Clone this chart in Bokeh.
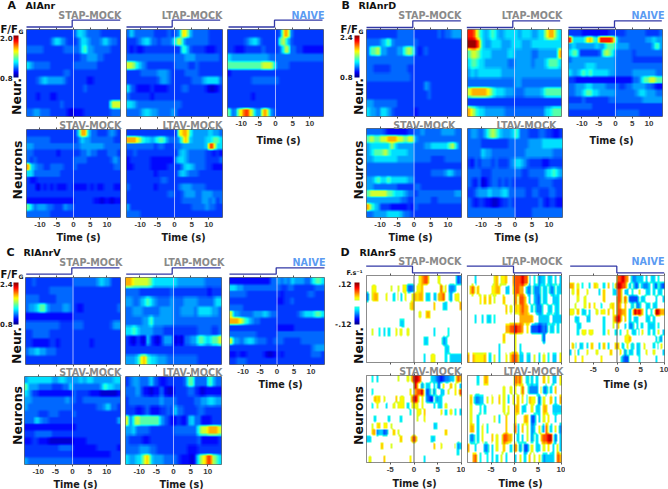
import numpy as np
from bokeh.embed import file_html
from bokeh.resources import INLINE
from bokeh.plotting import figure
from bokeh.layouts import column
from bokeh.models import LinearColorMapper, LinearAxis, FixedTicker, Span, Range1d, ColorBar
from bokeh.core.properties import value

# ---------- data: one string per neuron, one character per time bin ----------
TICKS = [-10, -5, 0, 5, 10]
TICKS_D = [-5, 0, 5, 10]

A_STAP = ["2222222 2222222 3554333 3222222","2222222 3554322 2355433 3454332","3333322 2222333 3356443 3333222",
"2222222 2222222 2233444 3322222","5433333 2222222 3333333 2222222","2222222 2222332 2222222 2222222",
"2223454 4444322 2222112 2222222","2222222 2222222 2223222 2222222","2221222 1122222 2222222 2222222",
"2222222 2223222 2222222 2222777","3344333 2222210 1112222 2222333"]
A_LTAP = ["3533333 3222232 3487533 3332222","2223455 3323334 6753333 3332222","2121122 2222222 2265322 2211122",
"3333333 3333333 3334443 3333332","7765432 2222222 3333223 2222222","2222333 3344432 2223333 2222222",
"2222222 2234432 2222233 3455553","5321111 2111122 2233222 2210012","3222222 1222222 2222222 2222222",
"5543333 3333333 3322222 2222222","3333455 4433334 3222222 2222222"]
A_NAIVE = ["2222222 2222222 2388422 2222222","2222234 5532222 2675322 2222222","2211122 2223222 2367332 2111111",
"5444444 4444433 3333333 3333333","6666666 6667776 3333222 2222222","1222222 2222222 2222222 2222222",
"2222222 3333333 3222222 2222222","2222222 2222222 2222222 2222222","2222222 1222222 2222222 2222222",
"2222222 2222222 2222222 2222222","6347898 6448843 2222222 2222222"]
A_STAV = ["2222222 2222222 2588533 2223432","3333333 2222222 2354433 3333322","4433333 3333333 3344444 4433333",
"3322222 2212222 2233433 2223332","3232222 2222222 3333222 2222343","8543322 3333222 3222222 2222233",
"5533333 3332222 2222222 2222222","2112222 2222222 2222222 2222222","2220212 1211122 1111212 1122211",
"2222222 2222222 2222222 2222222","1111111 1111111 2222221 1011011","6534443 3222433 2222222 2222222",
"3333333 2222222 2222222 2222222"]
A_LTAV = ["2222222 2222222 2788644 4445443","8887655 4566533 3478544 4455665","3333333 3233222 3344444 4459855",
"2232222 2222222 2454333 3322121","1222222 1111111 4554333 3322223","1122222 1111122 2245543 3322111",
"2222222 2122222 2454333 2222222","2222222 2223322 2222222 2222222","3222222 2122222 2344433 3322222",
"2222222 2222233 2234443 3444333","2222222 2222222 2233333 3443423","4222222 2222222 2222233 3343322",
"3333222 2222222 2222222 2222222"]

B_STAP = ["2222222 2233333 2222222 3233444","3333456 4333333 3222222 2222222","3667443 3344676 3123222 2222222",
"3333333 3333333 2222222 2222222","3322222 3333322 2222222 2222222","3333333 3333332 2222222 2222222",
"2222222 2222222 2224322 2222222","2222222 2222222 2222322 2222222","4433333 3322222 2222222 2222222",
"5443554 3222222 1222222 2222222"]
B_LTAP = ["9986545 6544555 5455544 5578865","aaa8544 5554445 5544455 5555555","6776555 4444455 4444433 4444448",
"5665544 4444433 4444434 4456665","4545555 5554444 4444444 4444444","3333333 3333333 4433333 3333333",
"7888887 6555444 3334444 4566666","2222222 2222222 2222222 2222222","8765544 4444333 3333333 3355666"]
B_NAIVE = ["2222111 1111122 2223333 3322223","9555578 6599998 4333333 3344544","4544444 4544666 4444333 3333564",
"5662222 2236765 3333323 3333333","3444444 4444444 3333322 2222222","4444455 5444444 3333333 3333333",
"5445656 5555544 3333344 4444433","2211111 1111111 1111133 4667766","3344455 4444333 3223344 4433211",
"3344566 5544444 3333334 5544433","2222322 2222233 3333333 3444444","3333333 2222222 2222222 2222222",
"2222222 2222222 3333333 2222222"]
B_STAV = ["3333321 1111122 3343333 3444433","6766778 8877677 4333333 3333333","4555555 7544444 3334455 5556753",
"4566676 5555544 3333333 3333333","4455555 5544444 3333322 2233333","3333333 3333333 2222222 2222222",
"3333333 3333333 2222233 3345433","4456556 5555544 2222222 2222222","4433333 3322222 3322222 2222222",
"6777776 6555433 2333333 3333344","4444444 4443322 3333322 3333333","8654222 1111121 3222222 2222222",
"3344445 5554332 2222222 2222222"]
B_LTAV = ["3443356 7654445 6333222 3322112","3333222 2222233 3333444 4555555","3333544 3333333 3334444 4444333",
"2132333 2322234 5543222 2112222","3333222 3333333 3322333 3355654","3213012 3323232 2222222 3333222",
"2234445 4445533 3332233 2223322","3212211 0012232 2222222 3212211","3333333 3333333 2222233 3333333"]

C_STAP = ["2232222 2222222 3333333 4544222","2222222 3333333 2222222 2222222","3333222 2233333 2222222 2222222",
"3445664 3333443 2112222 2222223","1111111 1111111 2222222 2222222","3333333 3332222 3332222 2222344",
"2233333 2222222 2222222 2222222","2211111 2212222 2222212 2222222","3445443 3322222 2222222 2222222",
"2222222 2222222 2222222 2222222"]
C_LTAP = ["8877777 6555555 5444444 4433333","3333222 2222223 2222222 2221222","4433456 5433334 3334444 3333355",
"3344433 3334444 3344443 5555443","3333344 6444444 3333333 3333333","5565444 4333222 2222222 3333223",
"2102105 2102444 0103344 6655667","2222222 2222222 2222222 2222222","4445786 5544433 3333333 2222222"]
C_NAIVE = ["1111111 1111133 4343544 4335665","5544333 3333333 3223322 2222333","3333322 2222222 2122222 2233222",
"2222222 2222222 1122322 2222222","3333222 2222222 2222222 2222222","7443333 4445433 2222223 4555665",
"8887654 3322222 2222222 2222222","2222222 2222222 1111122 2222222","3333333 3222222 3333333 3333333",
"7443455 4333223 3322222 3333333","2222222 2222222 2222222 2223444","1121122 2221001 2122222 2223332",
"2233322 2222222 2222222 2222222"]
C_STAV = ["4555555 5445544 4454554 4444455","6444333 3222335 3333333 3465544","5422111 1111111 3222211 1000001",
"4433333 3333343 3223333 3333333","4333333 3333333 2222222 3345332","3333222 3332222 3222222 2222222",
"3335433 2222222 2222222 2222224","1111111 1111111 1222222 2222222","2223333 3222222 2222222 2222222",
"1122111 0000000 1111222 2222222","2222222 2223333 1111111 2222221","2222222 2222222 1111111 1111222",
"4333333 3333333 2222222 2222222"]
C_LTAV = ["2344333 5321122 2223663 3336533","3334311 0113100 2222332 1011111","2333333 3334333 3222223 3445544",
"2221123 1112232 5332222 3322222","7367666 6664321 1211453 3111222","4453333 2222222 3333333 6778887",
"3222211 2222222 2222222 3111112","3333444 3322222 2222111 2222222","5445578 5444333 3211102 6789765"]

D_STAP = [".......... .......... ..6788.... 6.......23","..66...... 6..6.66323. 667....... 8.64334...",
"3.677...6. .4.64.6..6 7677.44.44 778..3.66.",".......... ........67 ........7. ..44.....7",
".......... .......... ..6..77... ..........",".......... ....44.... .......... ..........",
"..6..4.4.4 ..6.6..6.. ........4. ....4.....",".......... .......... ....44.... ..34......",
".......... .......... .......... ...44.....",".......... .......... ....4..66. ...4.44444"]
D_LTAP = ["...4...... .67.667..7 8889884.4. 344.44.4.4",".78.7..... 6677..44.6 8877.33.33 3.44.33.44",
".....7.7.7 .6...7.... 8.887.4.43 2.44..444.",".......... ......7.6. 767877.4.3 33..44.44.",
"...4..4.44 .4........ ..777777.. 44444.4444",".......... ......7788 9887.7.222 1232.44.4.",
".......... .....7.... 6......... ..2.......",".......... ...4...... 6.4....... ..........",
"7.766667.4 .6.4..6.78 8744.44.6. 4.6.4.44.6"]
D_NAIVE = [".......... .......... 88987.3344 4.4.44.4..","77.6.4..4. 76..4.7.47 9988.4.32. 4334.42.32",
".6.7...6.. ..4.7...44 88.44.4..6 ..44.4.44.","...6..6... ....7..... 88.8.2222. 44....4..4",
"..6...6.7. 7..4...67. 87.7..3.33 ..44.44...","66.7.44.4. .6.66.7.7. 8877.4.989 7.4.4.9977",
"..44...44. ....4...68 98.7.4.44. ..44.4....","...44..... ....4...6. 7..4.33.4. 4..444.4..",
"...4.66.66 ....4.6..4 .4..6.44.4 6..4.4.6.4",".......... .......... ...667.... ......4.3.",
".74.44.4.7 ..4.7.4..7 7.4.6.3.44 .6...4.46.","4.64...6.. .6.....7.. .7.3.44.44 ..6..6...4",
"..7..7.... ...7...... ..322....4 ......4..."]
D_STAV = ["..4.4..... ...6...6.8 998....443 2123344.87",".......... .......... 97.3.44.4. 2.6..7.6.4",
"..4....... ........7. 7889.23.3. .44.6..7.8","...767.6.. ..7.66...8 98.6.321.3 44........",
"..4.6...4. .6.666.4.6 66.6....4. 44.6......",".......... ........4. .66.7..... .6.4.6.4.4",
"...4.....4 ....4..... .6..6..... ..........","..6.67.66. 6......... ........44 ..........",
"..7734423. .7.6...... .......... ...7......","44........ ....7....8 8......44. ..........",
"......7... 6......... ........7. .6.....634",".......... .......... .......... ........4.",
".6.....7.. ........7. ....4..... ..........."]
D_LTAV = ["....4..77. .......... 878..3.4.4 ..7.6.44.6",".......... .....6..6. 6..8..3333 .633.4.7..",
".7.3344.6. 6..7.6.4.6 .7.6.4766. 2.6..7.4.7",".6...4.4.. .....6.6.. 77.44..6.4 4.77..4444",
".6..4..... .6.4..7... 6...77.22. 4.6.7..4..",".77.4.6.4. ......7... 84.7.6.34. 6.38.4.6.3",
".33.4.6... 7.6..8877. .4.4.6.3.4 .78899.2.4","7..4...33. 4.6..7..4. 8.3.22.6.4 4.6.7.4.64",
"..78.4..4. 4.4.6.4... 4.6.4.7.6. 6.34444.87"]

RANGE_AC = {"A": (0.8, 2.0), "B": (0.8, 2.4), "C": (0.8, 2.4)}
RANGE_D = (-0.12, 0.12)

TITLES = ["STAP-MOCK", "LTAP-MOCK", "NAIVE", "STAV-MOCK", "LTAV-MOCK"]
PANELS = ["A", "B", "C", "D"]
NAMES = ["AIAnr", "RIAnrD", "RIAnrV", "RIAnrS"]

# ---------- colour: code -> normalised position on the colour scale ----------
LEVEL = dict(zip("0123456789a", [0.08, 0.135, 0.18, 0.23, 0.285, 0.345, 0.46, 0.58, 0.70, 0.85, 0.97]))
LEVEL_D = {"0": .05, "1": .14, "2": .2, "3": .26, "4": .33, ".": .5, "6": .63, "7": .70, "8": .80, "9": .93}

def jet(t):
    r = np.clip(np.minimum(4*t-1.5, -4*t+4.5), 0, 1)
    g = np.clip(np.minimum(4*t-0.5, -4*t+3.5), 0, 1)
    b = np.clip(np.minimum(4*t+0.5, -4*t+2.5), 0, 1)
    return "#%02x%02x%02x" % (int(r*255), int(g*255), int(b*255))

JET = [jet(i/255) for i in range(256)]
JET_D = ["#ffffff" if 0.43 < i/255 < 0.57 else jet(i/255) for i in range(256)]

def decode(rows, ncol, levels, low, high):
    out = []
    for s in rows:
        s = s.replace(" ", "")
        s = s.ljust(ncol, s[-1])[:ncol]
        out.append([low + levels[c]*(high-low) for c in s])
    return np.array(out, dtype=float)

def box(a, w, axis):
    # small moving average, the photographed reference is soft
    pad = [(0, 0), (0, 0)]
    pad[axis] = (w//2, w//2)
    a = np.pad(a, pad, mode="edge")
    return np.apply_along_axis(lambda v: np.convolve(v, np.ones(w)/w, mode="valid"), axis, a)

def soften(a, is_d):
    fy, fx = 8, (3 if is_d else 4)
    a = np.repeat(np.repeat(a, fy, axis=0), fx, axis=1)
    a = box(a, 3, 0)
    return box(a, 3 if is_d else 5, 1)

# ---------- layout in reference pixels: left, top, right, bottom ----------
BOX = {
 "A": [(26,29,120,116),(126,29,222,116),(227,29,323,116),(26,129,120,217),(126,129,222,217)],
 "B": [(366,29,461,116),(467,29,561,116),(568,29,662,116),(366,128,461,217),(467,128,562,217)],
 "C": [(25,277,120,364),(125,277,221,364),(229,277,324,364),(24,376,120,464),(125,376,221,464)],
 "D": [(366,275,461,362),(467,275,561,362),(569,275,664,362),(366,375,461,462),(467,375,561,462)],
}
SERIES = {
 "A": [A_STAP,A_LTAP,A_NAIVE,A_STAV,A_LTAV],
 "B": [B_STAP,B_LTAP,B_NAIVE,B_STAV,B_LTAV],
 "C": [C_STAP,C_LTAP,C_NAIVE,C_STAV,C_LTAV],
 "D": [D_STAP,D_LTAP,D_NAIVE,D_STAV,D_LTAV],
}
PAD, TOP, BOTTOM = 4, 5, 18
FONT = value("DejaVu Sans")

def heatmap(panel, idx):
    x0, y0, x1, y1 = BOX[panel][idx]
    rows = SERIES[panel][idx]
    is_d = panel == "D"
    lo, hi = RANGE_D if is_d else RANGE_AC[panel]
    data = decode(rows, 40 if is_d else 28, LEVEL_D if is_d else LEVEL, lo, hi)
    t0, t1 = (-10, 10) if is_d else (-14, 14)
    p = figure(width=x1-x0+2*PAD, height=y1-y0+TOP+BOTTOM, x_range=Range1d(t0, t1), y_range=Range1d(0, len(rows)),
               output_backend="svg", toolbar_location=None, x_axis_location=None, y_axis_location=None,
               min_border_left=PAD, min_border_right=PAD, min_border_top=TOP, min_border_bottom=BOTTOM,
               background_fill_color="white", border_fill_color=None, outline_line_color="#666666", outline_line_width=1)
    p.grid.visible = False
    mapper = LinearColorMapper(palette=JET_D if is_d else JET, low=lo, high=hi)
    p.image(image=[soften(data[::-1], is_d)], x=t0, y=0, dw=t1-t0, dh=len(rows), color_mapper=mapper)
    p.add_layout(Span(location=0, dimension="height",
                      line_color="#555555" if is_d else "#d8d8ff", line_alpha=0.9 if is_d else 0.75, line_width=1))
    show_labels = idx >= 2
    ticks = TICKS_D if is_d else TICKS
    for side in ("below", "above"):
        labelled = side == "below" and show_labels
        ax = LinearAxis(ticker=FixedTicker(ticks=ticks), axis_line_color=None, major_tick_in=0, major_tick_out=2,
                        major_tick_line_color="#555555", minor_tick_line_color=None, major_label_standoff=2 if labelled else 0,
                        major_label_text_font="Liberation Sans", major_label_text_font_style="bold",
                        major_label_text_font_size="8px" if labelled else "1px",
                        major_label_text_color="#3a3a3a",
                        major_label_overrides={t: str(t) for t in ticks} if labelled else {t: "" for t in ticks})
        p.add_layout(ax, side)
    p.styles = {"position": "absolute", "left": f"{x0-PAD}px", "top": f"{y0-TOP}px"}
    return p

figs = [heatmap(k, i) for k in PANELS for i in range(5)]

# ---------- two overlays in pixel coordinates, one per half, for the texts and stimulus steps ----------
# each overlay's frame is 660 wide and starts a little inside the element
FRAME_W, INSET = 660, 5.5
def overlay(frame_left):
    f = figure(width=FRAME_W+16, height=489, x_range=Range1d(frame_left, frame_left+FRAME_W), y_range=Range1d(489, 0),
               output_backend="svg", toolbar_location=None, x_axis_location=None, y_axis_location=None,
               min_border=0, min_border_left=0, min_border_right=0, min_border_top=0, min_border_bottom=0,
               background_fill_color=None, border_fill_color=None, outline_line_color=None)
    f.grid.visible = False
    f.styles = {"position": "absolute", "left": f"{frame_left-INSET}px", "top": "0px", "pointer-events": "none"}
    return f

ovL, ovR = overlay(0), overlay(8)
SPLIT = 334

def txt(xs, ys, labels, size, color="#111111", align="left", angle=0.0, style="bold", font=FONT):
    for ov, keep in ((ovL, lambda v: v < SPLIT), (ovR, lambda v: v >= SPLIT)):
        idx = [i for i, v in enumerate(xs) if keep(v)]
        if idx:
            ov.text(x=[xs[i] for i in idx], y=[ys[i] for i in idx], text=[labels[i] for i in idx],
                    text_font=font, text_font_size=size, text_font_style=style,
                    text_color=color, text_align=align, text_baseline="middle", angle=angle)

# panel letters and names
txt([8,342,7,341],[5,5,252,252],PANELS,"11px")
txt([26,359,24,360],[4.5,4.5,251.5,251.5],NAMES,"9.5px")

# condition titles: right edge, centre
TITLE_POS = {
 "A": [(122,15),(223,15),(325,15),(122,125),(223,125)],
 "B": [(462,15),(563,15),(665,15),(456,125),(557,125)],
 "C": [(123,262),(225,262),(326,262),(122,372),(223,372)],
 "D": [(462,261),(563,261),(665,261),(462,371),(564,371)],
}
for k in PANELS:
    for i, (x, y) in enumerate(TITLE_POS[k]):
        txt([x],[y],[TITLES[i]],"9.6px","#5b9bf2" if i == 2 else "#8a8a8a","right")

# stimulus steps: start, switch, stop
STEP = {
 "A": (19.7,26.5,[(27,72.7,120.7),(127,172.7,220.7),(229,275,323)]),
 "B": (20.3,27,[(367,413.3,461.3),(467.3,513.3,560.7),(569,615,662.3)]),
 "C": (267.3,273.7,[(26.7,72.3,120),(126.7,172.7,221.3),(230,276.7,325)]),
 "D": (265.7,272.3,[(366.7,413,460.7),(467.3,514,562),(570.7,617.3,664.7)]),
}
for k, (hi_y, lo_y, spans) in STEP.items():
    ov = ovL if k in "AC" else ovR
    for a, b, c in spans:
        before, after = (hi_y, lo_y) if k == "D" else (lo_y, hi_y)
        ov.line([a, b, b, c], [before, before, after, after], line_color="#3238a6", line_width=1.3)

# colour bars and their labels
CB = {"A": (14,35,5,42), "B": (355,35,5,42), "C": (14,282,5,42), "D": (355,282,5,42)}
for k, (x, y, w, h) in CB.items():
    ov, left = (ovL, 0) if k in "AC" else (ovR, 8)
    m = LinearColorMapper(palette=JET_D if k == "D" else JET, low=0, high=1)
    cb = ColorBar(color_mapper=m, location=(x-left, 489-y-h), width=w, height=h, padding=0, margin=0,
                  major_tick_line_color=None, bar_line_color=None,
                  border_line_color=None, background_fill_color=None, ticker=FixedTicker(ticks=[]))
    ov.add_layout(cb, "center")
txt([13,353,13],[37,36,283],["2.0","2.4","2.4"],"7px","#222222","right")
txt([13,353,13],[77,76,323],["0.8","0.8","0.8"],"7px","#222222","right")
txt([352,352],[283,323],[".12","-.12"],"7.5px","#222222","right")

# F/F_G labels
txt([1,341,1],[29,29,274],["F/F","F/F","F/F"],"10px")
txt([19,359,19],[31,31,276],["G","G","G"],"6px")
txt([347],[272],["F.s\u207b\u00b9"],"6.5px")

# rotated labels
ROT = np.pi/2
txt([17,359,17,359],[96,96,345,345],["Neur."]*4,"12.5px","#111111","center",ROT)
txt([17.5,359,17.5,359],[169.5,169.5,415,415],["Neurons"]*4,"12.5px","#111111","center",ROT)

# time labels
txt([79,184,279,411,517,612,76,182,281,415,521,626],
    [237,237,140,237,237,140,484,484,384,483,483,384],["Time (s)"]*12,"9.6px","#1a1a1a","center")

root = column(*figs, ovL, ovR, width=668, height=489, sizing_mode="fixed")
root.styles = {"position": "absolute", "left": "0px", "top": "0px", "overflow": "hidden"}
open("out.html", "w").write(file_html(root, INLINE))
